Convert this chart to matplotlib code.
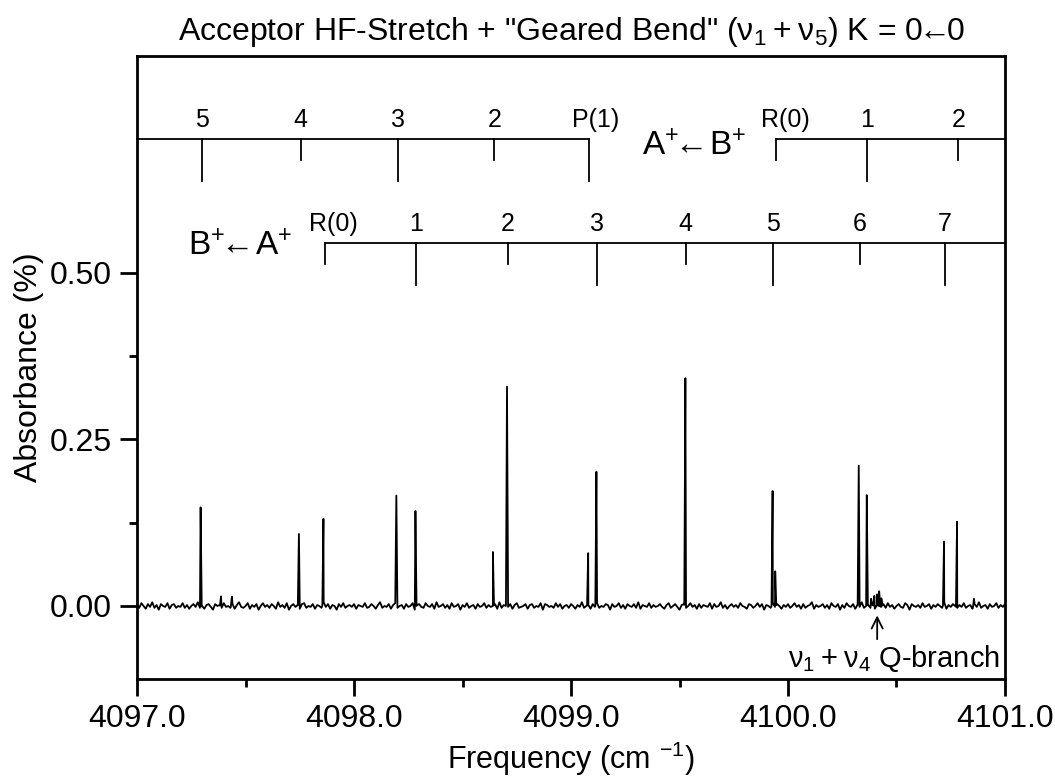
import numpy as np
import matplotlib
matplotlib.use("Agg")
import matplotlib.pyplot as plt
from matplotlib.ticker import MultipleLocator, FixedLocator

plt.rcParams['font.family'] = ['Liberation Sans', 'DejaVu Sans']
plt.rcParams['mathtext.fontset'] = 'custom'
plt.rcParams['mathtext.rm'] = 'Liberation Sans'
plt.rcParams['mathtext.fallback'] = 'stixsans'

# ---------------- data ----------------
x_start, x_end = 4097.0, 4101.0

# baseline noise (units of 0.001 % absorbance), evenly spaced over the x range
noise = [
    1,-2,3,0,-3,2,-1,4,-2,1,-4,2,0,-1,3,-3,1,2,-2,0,
    -1,3,-2,1,-3,0,2,-1,4,-2,0,-3,1,2,-1,-4,2,0,1,-2,
    3,-1,0,-2,2,-3,1,4,-1,-2,0,3,-3,1,-1,2,-4,0,3,-1,
    1,-2,2,0,-3,4,-1,1,-2,3,-4,0,2,-1,1,-3,2,3,-2,0,
    -1,2,-3,1,0,-2,4,-1,2,-3,1,0,-4,2,-1,3,-2,0,1,-1,
    2,-3,1,0,-1,3,-2,-1,2,0,-3,1,4,-2,0,-1,2,-3,1,3,
    -2,0,1,-3,2,-1,0,3,-4,1,2,-1,-2,3,0,-1,2,-3,4,-1,
    0,2,-2,1,-3,3,-1,0,2,-4,1,-1,3,-2,0,1,-3,2,-1,0,
    3,-2,1,-1,0,2,-3,4,-2,1,0,-1,2,-3,1,3,-2,-1,0,2,
    -3,1,2,-2,0,-1,3,-4,2,1,-1,0,-2,3,-1,2,-3,0,1,-2,
    2,0,-3,1,-1,4,-2,0,1,-3,2,-1,3,-2,0,-1,2,1,-4,2,
    -1,0,3,-2,1,-3,2,0,-1,2,-2,4,-3,1,0,-1,3,-2,1,-1,
    0,2,-1,-3,1,3,-2,0,2,-1,-4,1,2,-2,0,3,-1,1,-3,2,
    -2,1,0,-1,3,-3,2,-1,0,4,-2,1,-3,0,2,-1,1,-2,3,0,
    -1,-3,2,1,-2,0,3,-1,2,-4,1,0,-2,3,-1,2,0,-3,1,-1,
    2,-2,0,3,-1,1,-3,2,-2,0,1,4,-3,1,-1,0,2,-2,1,-3,
    3,0,-1,2,-4,1,-2,3,0,-1,2,-3,1,-1,4,-2,0,1,-2,2,
    -3,1,0,-1,2,-2,3,-1,1,-3,0,2,-1,-2,3,1,-4,2,0,-1,
    1,-2,3,-1,0,2,-3,1,-1,2,0,-2,4,-3,1,-1,2,0,-2,1,
    -1,3,-2,0,1,-3,2,-1,4,-2,0,1,-3,2,-1,0,3,-2,1,-1,
    2,
]
noise_unit = 0.0014

# absorption lines: positions (cm-1) and peak heights (% absorbance)
peak_pos = [4097.293, 4097.387, 4097.437, 4097.746, 4097.859, 4098.195,
            4098.283, 4098.640, 4098.705, 4099.079, 4099.117, 4099.527,
            4099.929, 4099.941, 4100.326, 4100.363,
            4100.383, 4100.398, 4100.410, 4100.420, 4100.430,
            4100.719, 4100.779, 4100.857]
peak_height = [0.150, 0.016, 0.013, 0.110, 0.126, 0.165,
               0.146, 0.081, 0.330, 0.078, 0.199, 0.343,
               0.169, 0.053, 0.211, 0.166,
               0.012, 0.018, 0.016, 0.022, 0.013,
               0.092, 0.129, 0.010]

# assignment ladders
upper_p_pos = [4097.298, 4097.755, 4098.203, 4098.646, 4099.085]
upper_p_lab = ['5', '4', '3', '2', 'P(1)']
upper_r_pos = [4099.946, 4100.365, 4100.785]
upper_r_lab = ['R(0)', '1', '2']
lower_r_pos = [4097.865, 4098.287, 4098.708, 4099.120, 4099.529,
               4099.932, 4100.331, 4100.724]
lower_r_lab = ['R(0)', '1', '2', '3', '4', '5', '6', '7']

xticks = [4097.0, 4098.0, 4099.0, 4100.0, 4101.0]
xtick_labels = ['4097.0', '4098.0', '4099.0', '4100.0', '4101.0']
yticks = [0.0, 0.25, 0.50]
ytick_labels = ['0.00', '0.25', '0.50']

# ---------------- build the trace ----------------
noise_arr = np.array(noise) * noise_unit
grid_x = np.linspace(x_start, x_end, len(noise_arr))
half = 0.005
px = np.array(peak_pos)
ph = np.array(peak_height)
feet_x = np.concatenate([px - half, px + half])
all_x = np.concatenate([grid_x, px, feet_x])
base = np.interp(all_x, grid_x, noise_arr)
extra = np.concatenate([np.zeros_like(grid_x), ph, np.zeros_like(feet_x)])
order = np.argsort(all_x, kind='stable')
trace_x = all_x[order]
trace_y = (base + extra)[order]

# ---------------- figure ----------------
fig = plt.figure(figsize=(10.55, 7.8), dpi=100)
ax = fig.add_axes([0.1299, 0.1295, 0.9526 - 0.1299, 0.9286 - 0.1295])
ax.plot(trace_x, trace_y, color='black', lw=1.3)

ax.set_xlim(x_start, x_end)
ax.set_ylim(-0.1096, 0.826)
ax.set_xticks(xticks)
ax.set_xticklabels(xtick_labels)
ax.set_yticks(yticks)
ax.set_yticklabels(ytick_labels)
ax.xaxis.set_minor_locator(MultipleLocator(0.5))
ax.yaxis.set_minor_locator(FixedLocator([0.125, 0.375]))
ax.tick_params(which='major', direction='out', length=12, width=2,
               labelsize=23, pad=6)
ax.tick_params(which='minor', direction='out', length=6, width=2)
for s in ax.spines.values():
    s.set_linewidth(2)

ax.set_xlabel(r'Frequency (cm $^{\mathregular{-1}}$)', fontsize=22, labelpad=4)
ax.set_ylabel('Absorbance (%)', fontsize=23, labelpad=4)

ax.set_title('Acceptor HF-Stretch + "Geared Bend" '
             r'($\mathregular{\nu_1 + \nu_5}$) K = 0$\!\!\leftarrow\!\!$0',
             fontsize=23, pad=11)

lc = dict(color='black', lw=1.3, clip_on=False)
num_fs = 18

# upper ladder (A+ <- B+)
yu, yu_short, yu_long, yu_lab = 0.701, 0.670, 0.638, 0.712
ax.plot([x_start, upper_p_pos[-1]], [yu, yu], **lc)
for i, (p, lab) in enumerate(zip(upper_p_pos, upper_p_lab)):
    yend = yu_long if (len(upper_p_pos) - 1 - i) % 2 == 0 else yu_short
    ax.plot([p, p], [yu, yend], **lc)
    ax.text(p + (0.03 if lab.startswith('P') else 0), yu_lab, lab,
            ha='center', va='bottom', fontsize=num_fs)
ax.plot([upper_r_pos[0], x_end], [yu, yu], **lc)
for i, (p, lab) in enumerate(zip(upper_r_pos, upper_r_lab)):
    yend = yu_short if i % 2 == 0 else yu_long
    ax.plot([p, p], [yu, yend], **lc)
    ax.text(p + (0.04 if lab.startswith('R') else 0), yu_lab, lab,
            ha='center', va='bottom', fontsize=num_fs)
ax.text(4099.568, 0.690, r'$\mathregular{A^{+}}\!\!\leftarrow\!\mathregular{B^{+}}$',
        ha='center', va='center', fontsize=24)

# lower ladder (B+ <- A+)
yl, yl_short, yl_long, yl_lab = 0.545, 0.5135, 0.482, 0.555
ax.plot([lower_r_pos[0], x_end], [yl, yl], **lc)
for i, (p, lab) in enumerate(zip(lower_r_pos, lower_r_lab)):
    yend = yl_short if i % 2 == 0 else yl_long
    ax.plot([p, p], [yl, yend], **lc)
    ax.text(p + (0.04 if lab.startswith('R') else 0), yl_lab, lab,
            ha='center', va='bottom', fontsize=num_fs)
ax.text(4097.474, 0.540, r'$\mathregular{B^{+}}\!\!\leftarrow\!\mathregular{A^{+}}$',
        ha='center', va='center', fontsize=24)

# Q-branch annotation
ax.annotate('', xy=(4100.411, -0.010), xytext=(4100.411, -0.054),
            arrowprops=dict(arrowstyle='->', color='black', lw=1.3,
                            mutation_scale=20))
ax.text(4100.975, -0.092, r'$\mathregular{\nu_1 + \nu_4}$ Q-branch',
        ha='right', va='baseline', fontsize=21)

fig.savefig('out.png', dpi=100)
